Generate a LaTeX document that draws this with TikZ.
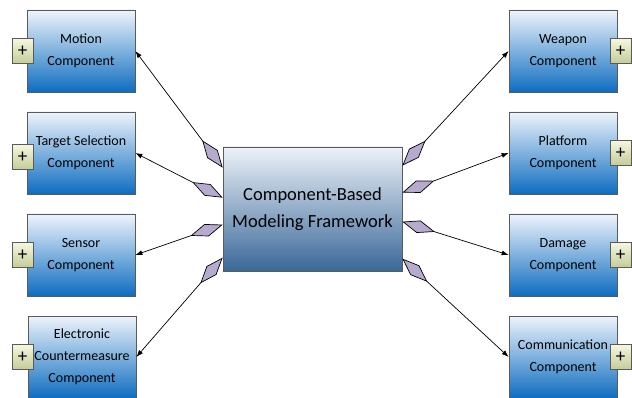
\documentclass[tikz,border=0pt]{standalone}
\usepackage{fontspec}
\setmainfont{Carlito}
\usetikzlibrary{arrows.meta,calc}
\definecolor{boxtop}{HTML}{EEF4FB}
\definecolor{boxmid}{HTML}{88BBE6}
\definecolor{boxbot}{HTML}{0E6DC0}
\definecolor{cortop}{HTML}{EDF2F8}
\definecolor{cormid}{HTML}{A3BCD5}
\definecolor{corbot}{HTML}{3A6898}
\definecolor{edge}{HTML}{5A5A5A}
\definecolor{plustop}{HTML}{F5F7DF}
\definecolor{plusbot}{HTML}{C4CC98}
\definecolor{lav}{HTML}{B6AACF}
\tikzset{
  comp/.style={draw=edge, line width=0.7pt, top color=boxtop, middle color=boxmid,
    bottom color=boxbot, minimum width=108pt, minimum height=82pt, inner sep=1pt,
    align=center, font=\fontsize{14}{22}\selectfont},
  core/.style={draw=edge, line width=0.7pt, top color=cortop, middle color=cormid,
    bottom color=corbot, minimum width=179pt, minimum height=124pt, align=center,
    font=\fontsize{18.5}{27}\selectfont},
  plusbox/.style={draw=edge, line width=0.6pt, top color=plustop, bottom color=plusbot,
    minimum width=21pt, minimum height=25pt, inner sep=0pt, font=\fontsize{19}{19}\selectfont},
  link/.style={line width=0.7pt,
    {Diamond[length=34pt,width=13pt,fill=lav]}-{Latex[length=7pt,width=5pt]}}
}
\begin{document}
\begin{tikzpicture}[x=1pt,y=-1pt]
\useasboundingbox (0,0) rectangle (632,398);

% central framework block
\node[core] (c) at (312.5,209) {Component-Based\\Modeling Framework};

% left column of components
\node[comp] (motion) at (81,51)  {Motion\\Component};
\node[comp] (target) at (81,153) {Target Selection\\Component};
\node[comp] (sensor) at (81,255) {Sensor\\Component};
\node[comp] (ecm)    at (82,357) {Electronic\\Countermeasure\\Component};

% right column of components
\node[comp] (weapon)   at (563,51)  {Weapon\\Component};
\node[comp] (platform) at (563,153) {Platform\\Component};
\node[comp] (damage)   at (563,255) {Damage\\Component};
\node[comp] (comm)     at (563,357) {Communication\\Component};

% expand markers
\node[plusbox] (p1) at (22.5,51)  {+};
\node[plusbox] (p2) at (22.5,157) {+};
\node[plusbox] (p3) at (22.5,255) {+};
\node[plusbox] (p4) at (22.5,357) {+};
\node[plusbox] (p5) at (620.5,51)  {+};
\node[plusbox] (p6) at (620.5,153) {+};
\node[plusbox] (p7) at (620.5,255) {+};
\node[plusbox] (p8) at (620.5,357) {+};

% attachment points on the framework block
\coordinate (l1) at ($(c.north west)+(0,21)$);
\coordinate (l2) at ($(c.north west)+(0,51)$);
\coordinate (l3) at ($(c.north west)+(0,78)$);
\coordinate (l4) at ($(c.north west)+(0,111)$);
\coordinate (r1) at ($(c.north east)+(0,19)$);
\coordinate (r2) at ($(c.north east)+(0,46)$);
\coordinate (r3) at ($(c.north east)+(0,75)$);
\coordinate (r4) at ($(c.north east)+(0,112)$);

% aggregation links
\draw[link] (l1) -- (motion.east);
\draw[link] (l2) -- (target.east);
\draw[link] (l3) -- (sensor.east);
\draw[link] (l4) -- (ecm.east);
\draw[link] (r1) -- (weapon.west);
\draw[link] (r2) -- (platform.west);
\draw[link] (r3) -- (damage.west);
\draw[link] (r4) -- (comm.west);
\end{tikzpicture}
\end{document}
